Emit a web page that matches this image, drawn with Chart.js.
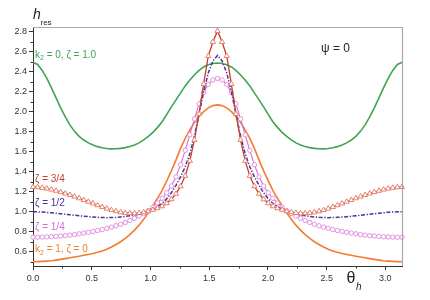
<!DOCTYPE html>
<html><head><meta charset="utf-8">
<script src="https://cdn.jsdelivr.net/npm/chart.js@4.4.1/dist/chart.umd.min.js"></script>
<style>html,body{margin:0;padding:0;background:#fff;}#wrap{width:430px;height:300px;position:relative;}</style>
</head><body><div id="wrap"><canvas id="c" width="430" height="300"></canvas></div>
<script>
// theta_h (rad)
const THETA = [0.0000,0.0393,0.0785,0.1178,0.1571,0.1963,0.2356,0.2749,0.3142,0.3534,
0.3927,0.4320,0.4712,0.5105,0.5498,0.5890,0.6283,0.6676,0.7069,0.7461,
0.7854,0.8247,0.8639,0.9032,0.9425,0.9817,1.0210,1.0603,1.0996,1.1388,
1.1781,1.2174,1.2566,1.2959,1.3352,1.3744,1.4137,1.4530,1.4923,1.5315,
1.5708,1.6101,1.6493,1.6886,1.7279,1.7671,1.8064,1.8457,1.8850,1.9242,
1.9635,2.0028,2.0420,2.0813,2.1206,2.1598,2.1991,2.2384,2.2777,2.3169,
2.3562,2.3955,2.4347,2.4740,2.5133,2.5525,2.5918,2.6311,2.6704,2.7096,
2.7489,2.7882,2.8274,2.8667,2.9060,2.9452,2.9845,3.0238,3.0631,3.1023,3.1416];

// k2 = 0, zeta = 1.0 (green)
const H_K0_Z1 = [2.497,2.475,2.415,2.335,2.240,2.140,2.040,1.950,1.870,1.805,
1.755,1.718,1.690,1.668,1.652,1.641,1.634,1.630,1.631,1.635,
1.642,1.653,1.668,1.690,1.720,1.755,1.795,1.845,1.902,1.975,
2.050,2.120,2.190,2.260,2.320,2.370,2.415,2.450,2.472,2.485,
2.490,
2.485,2.472,2.450,2.415,2.370,2.320,2.260,2.190,2.120,2.050,
1.975,1.902,1.845,1.795,1.755,1.720,1.690,1.668,1.653,1.642,
1.635,1.631,1.630,1.634,1.641,1.652,1.668,1.690,1.718,1.755,
1.805,1.870,1.950,2.040,2.140,2.240,2.335,2.415,2.475,2.497];

// zeta = 3/4 (red, triangles)
const H_Z34 = [1.248,1.246,1.240,1.232,1.222,1.210,1.197,1.183,1.168,1.152,
1.135,1.118,1.100,1.083,1.065,1.048,1.032,1.017,1.005,0.995,
0.988,0.985,0.985,0.988,0.995,1.005,1.020,1.035,1.055,1.085,
1.125,1.180,1.255,1.360,1.510,1.720,1.980,2.280,2.560,2.700,
2.810,
2.700,2.560,2.280,1.980,1.720,1.510,1.360,1.255,1.180,1.125,
1.085,1.055,1.035,1.020,1.005,0.995,0.988,0.985,0.985,0.988,
0.995,1.005,1.017,1.032,1.048,1.065,1.083,1.100,1.118,1.135,
1.152,1.168,1.183,1.197,1.210,1.222,1.232,1.240,1.246,1.248];

// zeta = 1/2 (purple, dash-dot)
const H_Z12 = [1.000,0.999,0.997,0.994,0.990,0.985,0.980,0.975,0.970,0.965,
0.960,0.955,0.951,0.947,0.944,0.942,0.941,0.942,0.944,0.948,
0.953,0.960,0.967,0.977,0.990,1.005,1.025,1.050,1.085,1.130,
1.190,1.265,1.350,1.450,1.580,1.760,1.980,2.200,2.390,2.510,
2.565,
2.510,2.390,2.200,1.980,1.760,1.580,1.450,1.350,1.265,1.190,
1.130,1.085,1.050,1.025,1.005,0.990,0.977,0.967,0.960,0.953,
0.948,0.944,0.942,0.941,0.942,0.944,0.947,0.951,0.955,0.960,
0.965,0.970,0.975,0.980,0.985,0.990,0.994,0.997,0.999,1.000];

// zeta = 1/4 (pink, circles)
const H_Z14 = [0.745,0.745,0.746,0.748,0.750,0.753,0.757,0.761,0.766,0.772,
0.779,0.787,0.795,0.803,0.812,0.822,0.834,0.846,0.860,0.875,
0.893,0.913,0.935,0.958,0.982,1.010,1.045,1.088,1.135,1.190,
1.258,1.350,1.470,1.615,1.770,1.930,2.080,2.195,2.275,2.320,
2.335,
2.320,2.275,2.195,2.080,1.930,1.770,1.615,1.470,1.350,1.258,
1.190,1.135,1.088,1.045,1.010,0.982,0.958,0.935,0.913,0.893,
0.875,0.860,0.846,0.834,0.822,0.812,0.803,0.795,0.787,0.779,
0.772,0.766,0.761,0.757,0.753,0.750,0.748,0.746,0.745,0.745];

// k2 = 1, zeta = 0 (orange)
const H_K1_Z0 = [0.500,0.501,0.503,0.506,0.510,0.516,0.523,0.531,0.539,0.547,
0.555,0.564,0.573,0.583,0.594,0.607,0.625,0.648,0.672,0.700,
0.733,0.772,0.816,0.866,0.924,0.990,1.060,1.135,1.215,1.310,
1.410,1.520,1.635,1.735,1.820,1.895,1.955,2.003,2.040,2.063,
2.070,
2.063,2.040,2.003,1.955,1.895,1.820,1.735,1.635,1.520,1.410,
1.310,1.215,1.135,1.060,0.990,0.924,0.866,0.816,0.772,0.733,
0.700,0.672,0.648,0.625,0.607,0.594,0.583,0.573,0.564,0.555,
0.547,0.539,0.531,0.523,0.516,0.510,0.506,0.503,0.501,0.500];

const Y_TICKS = [0.6,0.8,1.0,1.2,1.4,1.6,1.8,2.0,2.2,2.4,2.6,2.8];
const Y_MINOR = [0.5,0.7,0.9,1.1,1.3,1.5,1.7,1.9,2.1,2.3,2.5,2.7];
const X_TICKS = [0.0,0.5,1.0,1.5,2.0,2.5,3.0];
const X_MINOR = [0.25,0.75,1.25,1.75,2.25,2.75];

const C_GREEN='#3fa354', C_RED='#c23f2c', C_RED_PT='#e3826f', C_PURPLE='#4f2f9e',
      C_PINK='#d46fcf', C_PINK_PT='#e290e0', C_ORANGE='#f47b2f';
const FONT='"Liberation Sans", Arial, sans-serif';

const pts = arr => THETA.map((t,i)=>({x:t,y:arr[i]}));

const deco = {
  id:'deco',
  afterDraw(chart){
    const {ctx, chartArea:a, scales:{x,y}} = chart;
    ctx.save();
    ctx.strokeStyle='#a9a9a9'; ctx.lineWidth=1.2;
    ctx.beginPath();
    ctx.moveTo(a.left, a.top+0.5); ctx.lineTo(a.right+0.5, a.top+0.5); ctx.lineTo(a.right+0.5, a.bottom);
    ctx.stroke();
    ctx.strokeStyle='#333'; ctx.lineWidth=1;
    Y_MINOR.forEach(v=>{const p=Math.round(y.getPixelForValue(v))+0.5;
      ctx.beginPath(); ctx.moveTo(a.left-2.5,p); ctx.lineTo(a.left,p); ctx.stroke();});
    X_MINOR.forEach(v=>{const p=Math.round(x.getPixelForValue(v))+0.5;
      ctx.beginPath(); ctx.moveTo(p,a.bottom); ctx.lineTo(p,a.bottom+2.5); ctx.stroke();});
    ctx.textBaseline='alphabetic'; ctx.textAlign='left';
    // axis titles
    ctx.fillStyle='#222';
    ctx.font='italic 14px '+FONT; ctx.fillText('h', 33, 18.5);
    ctx.font='8px '+FONT; ctx.fillText('res', 40.5, 25);
    ctx.font='16px '+FONT; ctx.fillText('θ', 346.5, 283);
    ctx.font='italic 10px '+FONT; ctx.fillText('h', 356, 289.5);
    ctx.font='12px '+FONT; ctx.fillText('ψ = 0', 321, 51.7);
    // curve labels
    function kLabel(xp, yp, col, k, rest){
      ctx.fillStyle=col;
      ctx.font='10px '+FONT; ctx.fillText('k', xp, yp);
      const w=ctx.measureText('k').width;
      ctx.font='7px '+FONT; ctx.fillText(k, xp+w, yp+2.5);
      const w2=ctx.measureText(k).width;
      ctx.font='10px '+FONT; ctx.fillText(rest, xp+w+w2, yp);
    }
    kLabel(35, 57.5, C_GREEN, '2', ' = 0, ζ = 1.0');
    kLabel(35, 252, C_ORANGE, '2', ' = 1, ζ = 0');
    ctx.font='10px '+FONT;
    ctx.fillStyle=C_RED; ctx.fillText('ζ = 3/4', 35, 182);
    ctx.fillStyle=C_PURPLE; ctx.fillText('ζ = 1/2', 35, 205.5);
    ctx.fillStyle=C_PINK; ctx.fillText('ζ = 1/4', 35, 230);
    ctx.restore();
  }
};

new Chart(document.getElementById('c'), {
  type:'line',
  data:{ datasets:[
    {label:'ζ = 3/4', data:pts(H_Z34), borderColor:C_RED, borderWidth:1.3, tension:0,
     pointStyle:'triangle', pointRadius:3, pointBorderColor:C_RED_PT, pointBackgroundColor:'#fff', pointBorderWidth:1, clip:false},
    {label:'ζ = 1/2', data:pts(H_Z12), borderColor:C_PURPLE, borderWidth:1.5, borderDash:[4,1.6,1.3,1.6], tension:0, pointRadius:0},
    {label:'ζ = 1/4', data:pts(H_Z14), borderColor:C_PINK, borderWidth:1.1, tension:0,
     pointStyle:'circle', pointRadius:2.2, pointBorderColor:C_PINK_PT, pointBackgroundColor:'#fff', pointBorderWidth:1, clip:false},
    {label:'k2 = 1, ζ = 0', data:pts(H_K1_Z0), borderColor:C_ORANGE, borderWidth:1.6, tension:0, pointRadius:0},
    {label:'k2 = 0, ζ = 1.0', data:pts(H_K0_Z1), borderColor:C_GREEN, borderWidth:1.6, tension:0, pointRadius:0}
  ]},
  options:{
    responsive:false, animation:false, devicePixelRatio:1,
    layout:{padding:{left:0,right:28,top:27,bottom:0}},
    plugins:{legend:{display:false}, tooltip:{enabled:false}},
    scales:{
      x:{type:'linear', min:0, max:3.1416,
        afterBuildTicks:s=>{s.ticks=X_TICKS.map(v=>({value:v}));},
        afterFit:s=>{s.height=34;},
        grid:{display:true, drawOnChartArea:false, drawTicks:true, tickLength:4, color:'#333'},
        border:{display:true, color:'#333', width:1},
        ticks:{padding:3, autoSkip:false, maxRotation:0, color:'#333', font:{size:9, family:FONT}, callback:v=>Number(v).toFixed(1)}},
      y:{type:'linear', min:0.457, max:2.85,
        afterBuildTicks:s=>{s.ticks=Y_TICKS.map(v=>({value:v}));},
        afterFit:s=>{s.width=33;},
        grid:{display:true, drawOnChartArea:false, drawTicks:true, tickLength:4, color:'#333'},
        border:{display:true, color:'#333', width:1},
        ticks:{padding:2, autoSkip:false, color:'#333', font:{size:9, family:FONT}, callback:v=>Number(v).toFixed(1)}}
    }
  },
  plugins:[deco]
});
</script></body></html>
